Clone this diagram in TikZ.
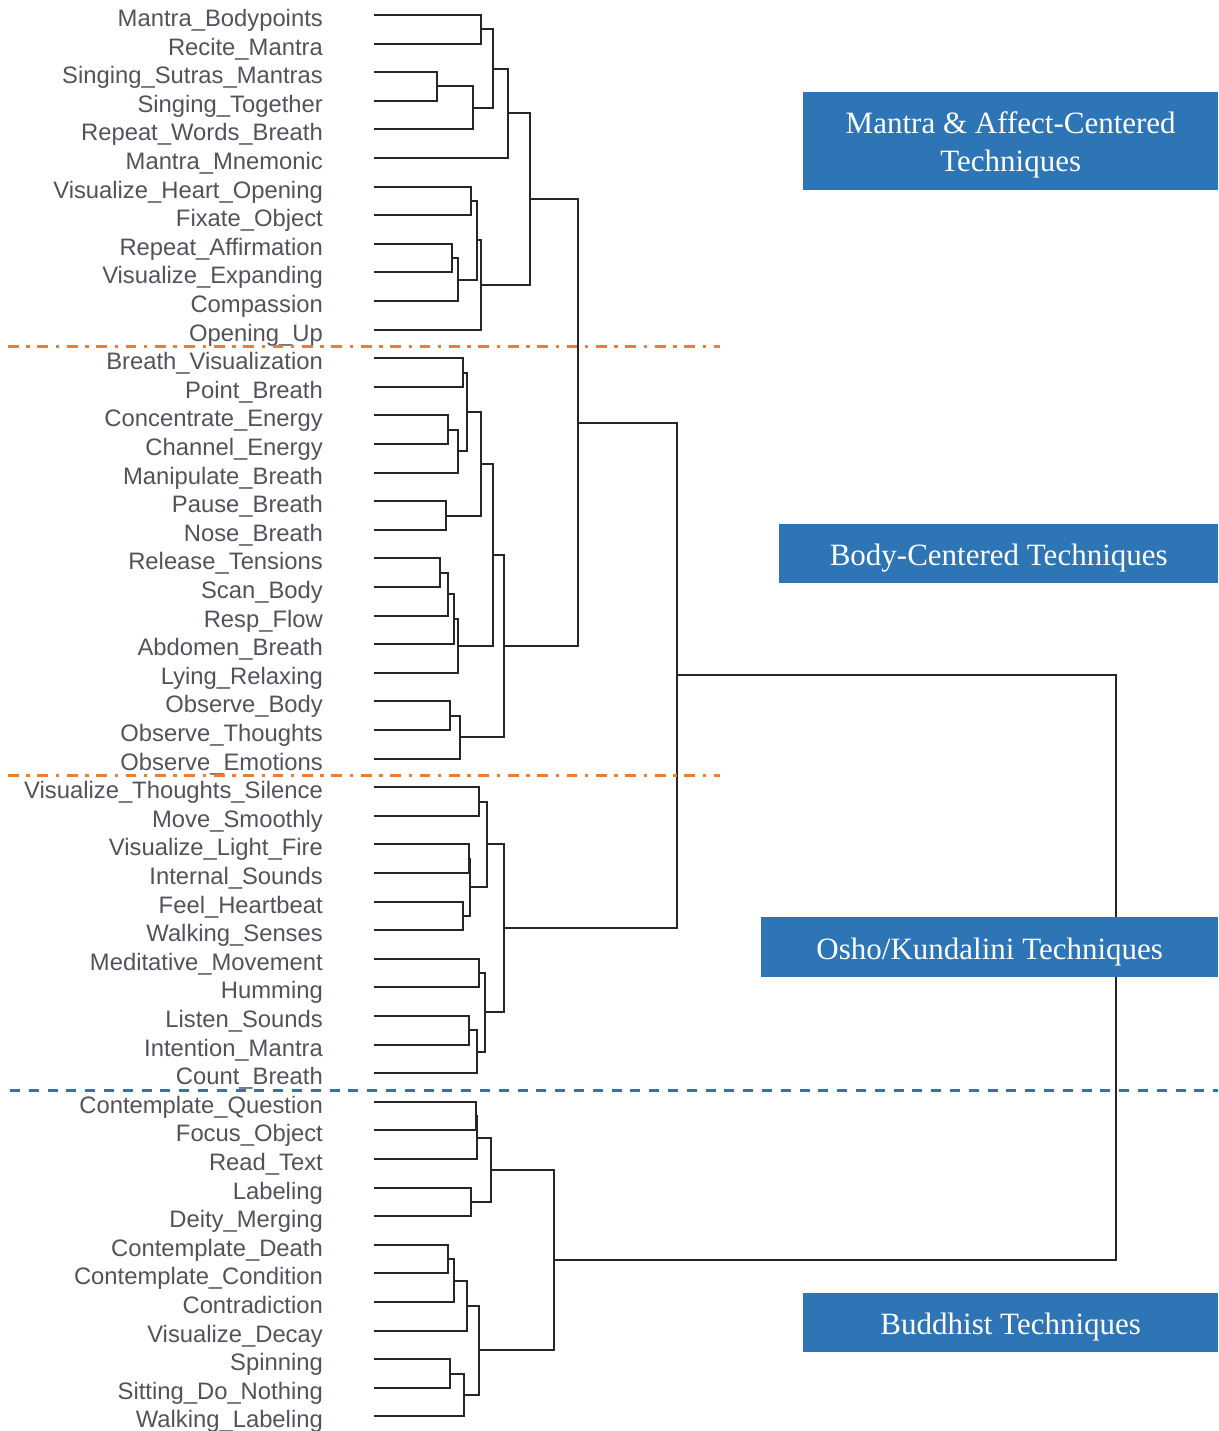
\documentclass[tikz,border=0pt]{standalone}
\usepackage{fontspec}
\usetikzlibrary{calc}

\newfontfamily\leaffont{Liberation Sans}
\newfontfamily\techfont{Liberation Serif}

\definecolor{leafgray}{RGB}{82,82,92}
\definecolor{techblue}{RGB}{46,117,182}
\definecolor{cutorange}{RGB}{237,125,49}

% merge two clusters #1 and #2 at height #3, new cluster named #4
\newcommand{\merge}[4]{%
  \coordinate (#4t) at ($(#1)!0.5!(#2)$);
  \coordinate (#4) at (#4t -| #3,0);
  \draw[link] (#1) -| (#4) |- (#2);}

\begin{document}
\begin{tikzpicture}[x=1pt, y=-1pt,
  link/.style={line width=2pt, draw=black!85},
  leaf/.style={anchor=base east, inner sep=0pt, text=leafgray,
    font=\leaffont\fontsize{23.8}{28}\selectfont},
  techbox/.style={fill=techblue, text=white, inner sep=0pt, anchor=north west,
    align=center, text height=24pt, text depth=0pt,
    font=\techfont\fontsize{31}{38.5}\selectfont}]

\useasboundingbox (0,0) rectangle (1218,1431);

% ===== Leaves =====
\foreach \i in {1,...,50} {
    \coordinate (l\i) at (374, {15+(\i-1)*28.6});
}

\foreach \txt [count=\i] in {Mantra\_Bodypoints, Recite\_Mantra, Singing\_Sutras\_Mantras,
    Singing\_Together, Repeat\_Words\_Breath, Mantra\_Mnemonic, Visualize\_Heart\_Opening,
    Fixate\_Object, Repeat\_Affirmation, Visualize\_Expanding, Compassion, Opening\_Up,
    Breath\_Visualization, Point\_Breath, Concentrate\_Energy, Channel\_Energy,
    Manipulate\_Breath, Pause\_Breath, Nose\_Breath, Release\_Tensions, Scan\_Body,
    Resp\_Flow, Abdomen\_Breath, Lying\_Relaxing, Observe\_Body, Observe\_Thoughts,
    Observe\_Emotions, Visualize\_Thoughts\_Silence, Move\_Smoothly, Visualize\_Light\_Fire,
    Internal\_Sounds, Feel\_Heartbeat, Walking\_Senses, Meditative\_Movement, Humming,
    Listen\_Sounds, Intention\_Mantra, Count\_Breath, Contemplate\_Question, Focus\_Object,
    Read\_Text, Labeling, Deity\_Merging, Contemplate\_Death, Contemplate\_Condition,
    Contradiction, Visualize\_Decay, Spinning, Sitting\_Do\_Nothing, Walking\_Labeling} {
    \node[leaf] (lab\i) at (323, {26.5+(\i-1)*28.6}) {\txt};
}

% ===== Mantra & affect =====
\merge{l1}{l2}{481}{a1}
\merge{l3}{l4}{437}{a2}
\merge{a2}{l5}{473}{a3}
\merge{a1}{a3}{493}{a4}
\merge{a4}{l6}{508}{a5}
\merge{l7}{l8}{471}{a6}
\merge{l9}{l10}{452}{a7}
\merge{a7}{l11}{458}{a8}
\merge{a6}{a8}{477}{a9}
\merge{a9}{l12}{481}{a10}
\merge{a5}{a10}{530}{a11}

% ===== Body =====
\merge{l13}{l14}{463}{b1}
\merge{l15}{l16}{448}{b2}
\merge{b2}{l17}{458}{b3}
\merge{b1}{b3}{467}{b4}
\merge{l18}{l19}{446}{b5}
\merge{b4}{b5}{481}{b6}
\merge{l20}{l21}{440}{b7}
\merge{b7}{l22}{448}{b8}
\merge{b8}{l23}{454}{b9}
\merge{b9}{l24}{458}{b10}
\merge{b6}{b10}{493}{b11}
\merge{l25}{l26}{450}{b12}
\merge{b12}{l27}{460}{b13}
\merge{b11}{b13}{504}{b14}

\merge{a11}{b14}{578}{ab}

% ===== Osho / Kundalini =====
\merge{l28}{l29}{479}{c1}
\merge{l30}{l31}{469}{c2}
\merge{l32}{l33}{463}{c3}
\merge{c2}{c3}{469.5}{c4}
\merge{c1}{c4}{487}{c5}
\merge{l34}{l35}{479}{c6}
\merge{l36}{l37}{469}{c7}
\merge{c7}{l38}{477}{c8}
\merge{c6}{c8}{485}{c9}
\merge{c5}{c9}{504}{c10}

\merge{ab}{c10}{677}{abc}

% ===== Buddhist =====
\merge{l39}{l40}{475.5}{d1}
\merge{d1}{l41}{477}{d2}
\merge{l42}{l43}{471}{d3}
\merge{d2}{d3}{491}{d4}
\merge{l44}{l45}{448}{d5}
\merge{d5}{l46}{454}{d6}
\merge{d6}{l47}{467}{d7}
\merge{l48}{l49}{450}{d8}
\merge{d8}{l50}{464}{d9}
\merge{d7}{d9}{479}{d10}
\merge{d4}{d10}{554}{d11}

\merge{abc}{d11}{1116}{root}

% ===== Cut lines =====
\draw[cutorange, line width=2.6pt, dash pattern=on 10.7pt off 7.7pt on 3.3pt off 7.7pt]
    (8,346.7) -- (720,346.7);
\draw[cutorange, line width=2.6pt, dash pattern=on 10.7pt off 7.7pt on 3.3pt off 7.7pt]
    (8,775.3) -- (720,775.3);
\draw[techblue, line width=2.6pt, dash pattern=on 10pt off 8.8pt]
    (10,1090.5) -- (1218,1090.5);

% ===== Group boxes =====
\node[techbox, minimum width=415pt, minimum height=98pt, text height=63.5pt, text depth=2pt]
    (mantra) at (803,92) {Mantra \& Affect-Centered\\Techniques};
\node[techbox, minimum width=439pt, minimum height=59pt] (body) at (779,524)
    {Body-Centered Techniques};
\node[techbox, minimum width=457pt, minimum height=60pt] (osho) at (761,917)
    {Osho/Kundalini Techniques};
\node[techbox, minimum width=415pt, minimum height=59pt] (buddhist) at (803,1293)
    {Buddhist Techniques};

\end{tikzpicture}
\end{document}
